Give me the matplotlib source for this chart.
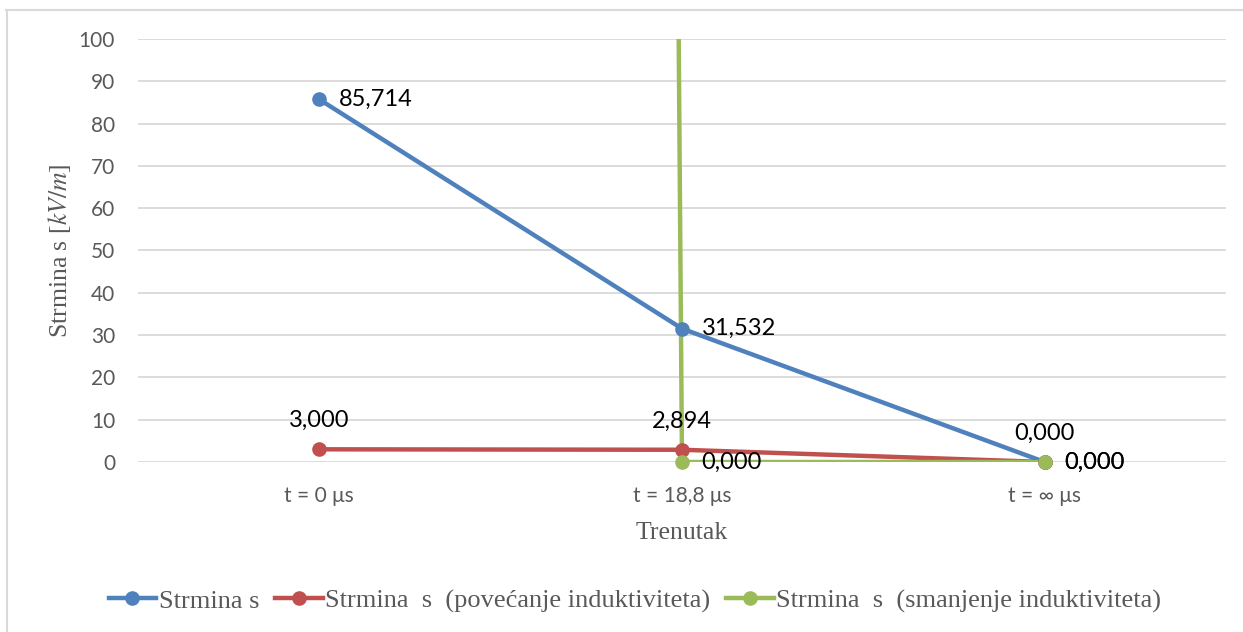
import matplotlib
matplotlib.use("Agg")
import matplotlib.pyplot as plt
from matplotlib.lines import Line2D

plt.rcParams['mathtext.fontset'] = 'stix'

# podaci
kategorije = ["t = 0 μs", "t = 18,8 μs", "t = ∞ μs"]
strmina = [85.714, 31.532, 0.0]
strmina_povecanje = [3.000, 2.894, 0.0]
strmina_smanjenje = [11000.0, 0.0, 0.0]

nazivi = ["Strmina s",
          "Strmina  s  (povećanje induktiviteta)",
          "Strmina  s  (smanjenje induktiviteta)"]
boje = ["#4F81BD", "#C0504D", "#9BBB59"]

SIVA = "#595959"
GRID = "#D9D9D9"
sans = "Lato"
serif = "Liberation Serif"
YMAX = 100

fig = plt.figure(figsize=(12.43, 6.32), dpi=100)
ax = fig.add_axes([138 / 1243, 1 - 462 / 632, 1088 / 1243, 423 / 632])

x = list(range(len(kategorije)))
serije = [strmina, strmina_povecanje, strmina_smanjenje]
for vrijednosti, boja in zip(serije, boje):
    ax.plot(x, vrijednosti, color=boja, lw=3.2, solid_capstyle="round")
    # markeri samo za tocke unutar osi, da se ne odrezu na nuli
    xs = [i for i, v in zip(x, vrijednosti) if 0 <= v <= YMAX]
    ys = [v for v in vrijednosti if 0 <= v <= YMAX]
    ax.plot(xs, ys, ls="none", marker="o", ms=9.5, color=boja, clip_on=False,
            zorder=3)

ax.set_xlim(-0.5, 2.5)
ax.set_ylim(0, YMAX)
ax.set_yticks(range(0, YMAX + 1, 10))
ax.set_xticks(x)
ax.set_xticklabels(kategorije)
ax.tick_params(axis="both", length=0, labelsize=15, colors=SIVA)
ax.tick_params(axis="y", pad=16.5)
ax.tick_params(axis="x", pad=17)
for lbl in ax.get_xticklabels() + ax.get_yticklabels():
    lbl.set_fontfamily(sans)
ax.grid(axis="y", color=GRID, lw=1.3)
ax.set_axisbelow(True)
for s in ax.spines.values():
    s.set_visible(False)

ax.set_ylabel("Strmina s [$kV/m$]", fontfamily=serif, fontsize=18.5,
              color=SIVA, labelpad=4)
ax.set_xlabel("Trenutak", fontfamily=serif, fontsize=18.5, color=SIVA,
              labelpad=12)

# oznake vrijednosti
def fmt(v):
    return f"{v:.3f}".replace(".", ",")

lab = dict(fontfamily=sans, fontsize=17, color="black")
desno = dict(xytext=(14, 0), textcoords="offset points", ha="left",
             va="center", **lab)
gore = dict(xytext=(0, 13), textcoords="offset points", ha="center",
            va="bottom", **lab)

ax.annotate(fmt(strmina[0]), (0, strmina[0]), **desno)
ax.annotate(fmt(strmina[1]), (1, strmina[1]), **desno)
ax.annotate(fmt(strmina[2]), (2, strmina[2]), **gore)
for i in range(2):
    ax.annotate(fmt(strmina_povecanje[i]), (i, strmina_povecanje[i]), **gore)
ax.annotate(fmt(strmina_povecanje[2]), (2, strmina_povecanje[2]), **desno)
for i in (1, 2):
    ax.annotate(fmt(strmina_smanjenje[i]), (i, strmina_smanjenje[i]), **desno)

# legenda
rucke = [Line2D([], [], color=b, lw=3.2, marker="o", ms=9.5) for b in boje]
leg = fig.legend(rucke, nazivi, loc="center",
                 bbox_to_anchor=(635 / 1243, 1 - 601 / 632),
                 ncol=3, frameon=False, handlelength=1.8, handletextpad=0.1,
                 columnspacing=0.6,
                 prop={"family": serif, "size": 19})
for t in leg.get_texts():
    t.set_color(SIVA)

# okvir
fig.add_artist(Line2D([6 / 1243, 1], [1 - 10 / 632, 1 - 10 / 632],
                      color=GRID, lw=1.5, transform=fig.transFigure))
fig.add_artist(Line2D([6.5 / 1243, 6.5 / 1243], [0, 1 - 10 / 632],
                      color=GRID, lw=1.5, transform=fig.transFigure))

fig.savefig("out.png", dpi=100)
